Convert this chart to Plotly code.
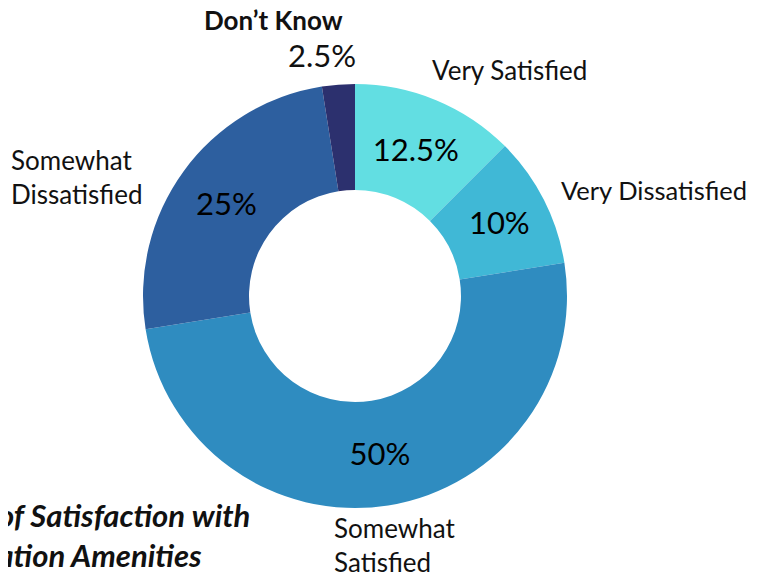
import plotly.graph_objects as go

categories = ["Very Satisfied", "Very Dissatisfied", "Somewhat Satisfied", "Somewhat Dissatisfied", "Don’t Know"]
values = [12.5, 10, 50, 25, 2.5]
colors = ["#62dee2", "#40b8d6", "#2f8cc0", "#2d5f9f", "#2c306e"]
display_labels = ["Very Satisfied", "Very Dissatisfied", "Somewhat<br>Satisfied", "Somewhat<br>Dissatisfied", "<b>Don’t Know</b>"]
title_text = "Level of Satisfaction with<br>Recreation Amenities"

# the page body has an 8px margin; lay out in window pixels and compensate
OFF = 8
W, H = 757 - OFF, 573 - OFF
FONT = "Lato, 'Open Sans', sans-serif"

def px(x, y):
    return (x - OFF) / W, 1 - (y - OFF) / H

inside_tpl = ["%{value}%" if v >= 5 else "" for v in values]

x0, y1 = px(143, 84)
x1, y0 = px(567, 508)

fig = go.Figure(go.Pie(
    labels=categories,
    values=values,
    sort=False,
    direction="clockwise",
    rotation=0,
    hole=0.5,
    marker=dict(colors=colors, line=dict(width=0)),
    texttemplate=inside_tpl,
    textposition="inside",
    insidetextorientation="horizontal",
    textfont=dict(family=FONT, size=31, color="#000000"),
    showlegend=False,
    hoverinfo="label+percent",
    domain=dict(x=[x0, x1], y=[y0, y1]),
))

# outside label positions (pixel anchors, left edge / vertical center)
label_pos = [(430, 70), (559, 190), (332, 545), (9, 177), (202, 20)]
label_sizes = [26, 25.5, 26, 26, 26]
annotations = []
for lab, (x, y), fs in zip(display_labels, label_pos, label_sizes):
    ax, ay = px(x, y)
    annotations.append(dict(text=lab, x=ax, y=ay, xref="paper", yref="paper",
                            xanchor="left", yanchor="middle", align="left", showarrow=False,
                            font=dict(family=FONT, size=fs, color="#111111")))

# small-slice percentage placed outside
sx, sy = px(358, 55)
annotations.append(dict(text=f"{values[4]:g}%", x=sx, y=sy, xref="paper", yref="paper",
                        xanchor="right", yanchor="middle", showarrow=False,
                        font=dict(family=FONT, size=31, color="#111111")))

tx, ty = px(-77, 535)
annotations.append(dict(text=f"<b><i>{title_text}</i></b>", x=tx, y=ty, xref="paper", yref="paper",
                        xanchor="left", yanchor="middle", align="left", showarrow=False,
                        font=dict(family=FONT, size=31, color="#111111")))

fig.update_layout(
    width=W, height=H,
    margin=dict(l=0, r=0, t=0, b=0),
    paper_bgcolor="white", plot_bgcolor="white",
    annotations=annotations,
)

fig.write_html("out.html")
